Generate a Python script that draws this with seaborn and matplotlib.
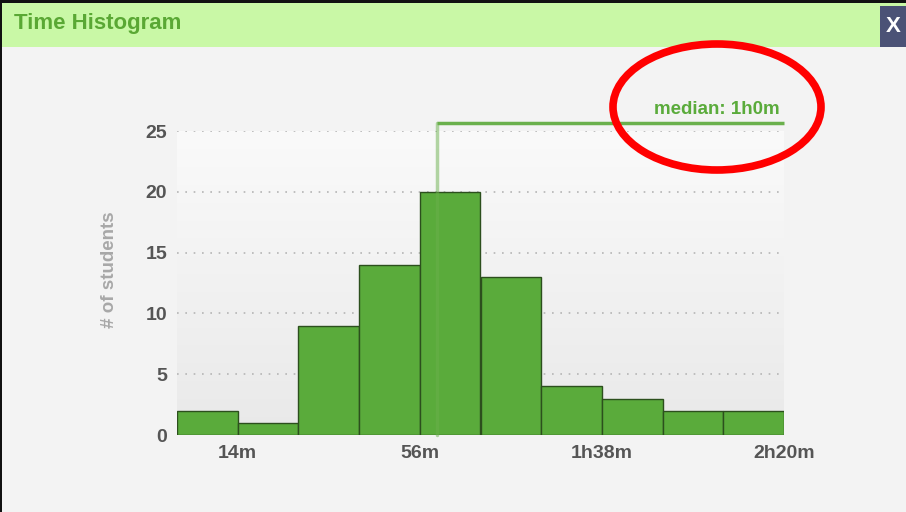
import numpy as np
import pandas as pd
import matplotlib
import matplotlib.pyplot as plt
import seaborn as sns
from matplotlib.patches import Rectangle, Ellipse
matplotlib.use('Agg')

# данные гистограммы (минуты)
bin_edges = [0, 14, 28, 42, 56, 70, 84, 98, 112, 126, 140]
counts = [2, 1, 9, 14, 20, 13, 4, 3, 2, 2]
tick_pos = [14, 56, 98, 140]
tick_labels = ['14m', '56m', '1h38m', '2h20m']
y_ticks = [0, 5, 10, 15, 20, 25]
median_min = 60
median_label = 'median: 1h0m'

df = pd.DataFrame({
    'minutes': [(bin_edges[i] + bin_edges[i + 1]) / 2 for i in range(len(counts))],
    'students': counts,
})

sns.set_theme(style="white")
plt.rcParams['font.family'] = ['Liberation Sans', 'DejaVu Sans']

fig = plt.figure(figsize=(9.06, 5.12), dpi=100)
fig.patch.set_facecolor('#f3f3f3')

W, H = 906, 512
ax = fig.add_axes([177 / W, 77 / H, 607 / W, 304 / H])

# фон с градиентом (светлый сверху, темнее снизу)
grad = np.linspace(0, 1, 256).reshape(-1, 1)
cmap = matplotlib.colors.LinearSegmentedColormap.from_list('bg', ['#fafafa', '#e9e9e9'])
ax.imshow(grad, aspect='auto', cmap=cmap, extent=[0, 140, 0, 25], origin='upper', zorder=0)

sns.histplot(
    data=df, x='minutes', weights='students', bins=bin_edges,
    color='#5aab3b', edgecolor='#2c4f1d', linewidth=1.0, alpha=1.0, ax=ax, zorder=2
)

ax.set_xlim(0, 140)
ax.set_ylim(0, 25)
ax.set_facecolor('#f3f3f3')
for s in ax.spines.values():
    s.set_visible(False)

# сетка
for yv in y_ticks[1:]:
    ax.axhline(yv, color='#b5b5b5', lw=1.2, ls=(0, (1, 4)), zorder=1)

ax.set_xticks(tick_pos)
ax.set_xticklabels(tick_labels)
ax.set_yticks(y_ticks)
ax.tick_params(axis='both', length=0, labelsize=14, labelcolor='#555555')
ax.tick_params(axis='x', pad=7)
ax.tick_params(axis='y', pad=7)
for lab in ax.get_xticklabels() + ax.get_yticklabels():
    lab.set_fontweight('bold')
ax.set_xlabel('')
ax.set_ylabel('# of students', color='#a8a8a8', fontsize=13.5, fontweight='bold')
ax.yaxis.set_label_coords(-59 / 607, 0.545)

# медиана
med_y = 25.66
ax.plot([median_min, median_min], [0, med_y], color='#6ab04c', lw=2.5, alpha=0.5,
        zorder=3, clip_on=False)
ax.plot([median_min, 140], [med_y, med_y], color='#6ab04c', lw=2.5, zorder=3,
        clip_on=False, solid_capstyle='butt')
ax.text(139, med_y + 0.45, median_label, color='#5aab3b', fontsize=13.5,
        fontweight='bold', ha='right', va='bottom', clip_on=False)

# заголовок окна
fig.patches.append(Rectangle((0, 465 / H), 1, 44 / H, transform=fig.transFigure,
                             facecolor='#c9f8a6', edgecolor='none', zorder=-1))
fig.patches.append(Rectangle((0, 509 / H), 1, 3 / H, transform=fig.transFigure,
                             facecolor='#111111', edgecolor='none'))
fig.patches.append(Rectangle((0, 0), 2 / W, 1, transform=fig.transFigure,
                             facecolor='#111111', edgecolor='none'))
fig.patches.append(Rectangle((880 / W, 465 / H), 26 / W, 41 / H, transform=fig.transFigure,
                             facecolor='#4b5276', edgecolor='none'))
fig.text(893 / W, 485 / H, 'X', color='white', fontsize=16, fontweight='bold',
         ha='center', va='center')
fig.text(14 / W, 489 / H, 'Time Histogram', color='#5aa834', fontsize=16,
         fontweight='bold', ha='left', va='center')

# красный овал
fig.patches.append(Ellipse((717 / W, (512 - 107) / H), 208 / W, 126 / H,
                           transform=fig.transFigure, facecolor='none',
                           edgecolor='#ff0000', lw=5.5))

fig.savefig('out.png', dpi=100, facecolor=fig.get_facecolor())
